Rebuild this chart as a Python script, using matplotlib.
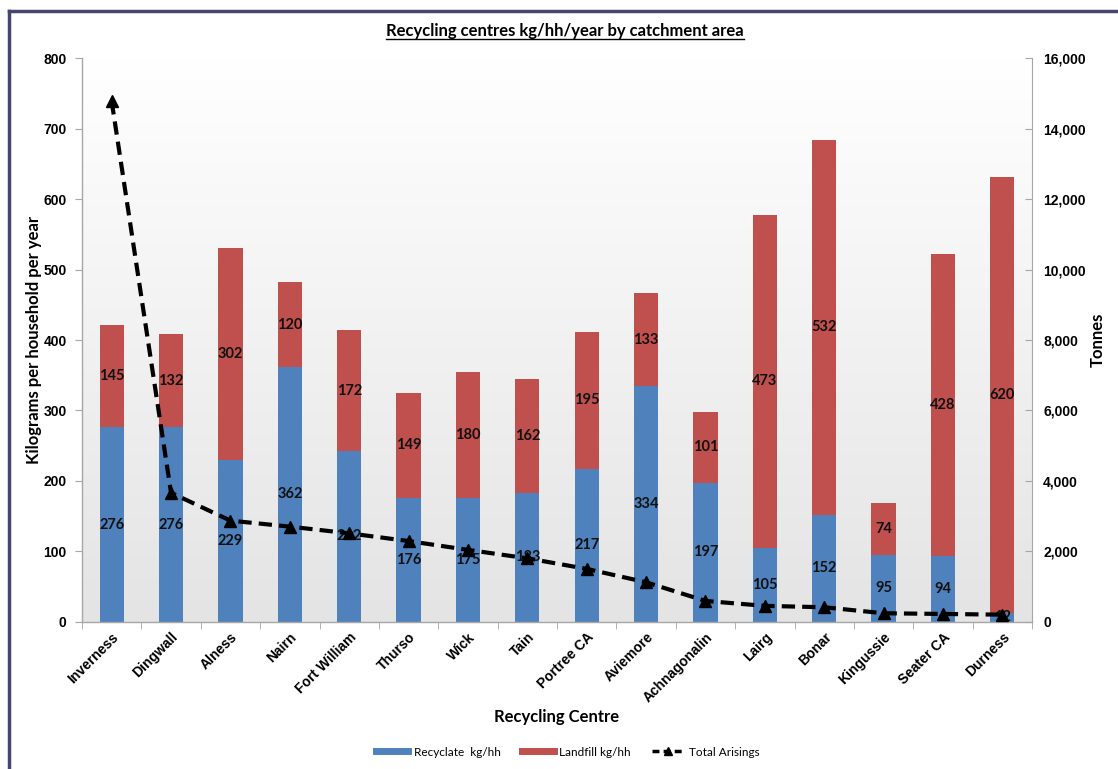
import numpy as np
import matplotlib
matplotlib.use("Agg")
import matplotlib.pyplot as plt
from matplotlib.lines import Line2D
from matplotlib.colors import LinearSegmentedColormap

centres = ["Inverness", "Dingwall", "Alness", "Nairn", "Fort William", "Thurso",
           "Wick", "Tain", "Portree CA", "Aviemore", "Achnagonalin", "Lairg",
           "Bonar", "Kingussie", "Seater CA", "Durness"]
recyclate = [276, 276, 229, 362, 242, 176, 175, 183, 217, 334, 197, 105, 152, 95, 94, 12]
landfill = [145, 132, 302, 120, 172, 149, 180, 162, 195, 133, 101, 473, 532, 74, 428, 620]
total_arisings = [14780, 3660, 2870, 2700, 2510, 2290, 2040, 1800, 1500, 1120, 590, 450, 410, 240, 220, 200]
left_ticks = [0, 100, 200, 300, 400, 500, 600, 700, 800]
right_ticks = [0, 2000, 4000, 6000, 8000, 10000, 12000, 14000, 16000]

BLUE = "#4F81BD"
RED = "#C0504D"
TICKFONT = "Liberation Sans"
CAL = "Lato"

W, H = 1118, 769
fig = plt.figure(figsize=(W / 100, H / 100), dpi=100)
fig.patch.set_facecolor("white")

x0, x1, yb, yt = 82, 1032, 621.7, 58.3
ax = fig.add_axes([x0 / W, 1 - yb / H, (x1 - x0) / W, (yb - yt) / H])
ax.set_facecolor("white")

# gradient background
cmap = LinearSegmentedColormap.from_list("g", ["#e4e4e4", "#ffffff"])
grad = np.linspace(0, 1, 256)[:, None]
ax.imshow(grad, extent=[-0.5, len(centres) - 0.5, 0, 800], origin="lower",
          aspect="auto", cmap=cmap, zorder=0, interpolation="bicubic")

x = np.arange(len(centres))
bw = 0.41
ax.bar(x, recyclate, bw, color=BLUE, zorder=2, label="Recyclate  kg/hh")
ax.bar(x, landfill, bw, bottom=recyclate, color=RED, zorder=2, label="Landfill kg/hh")

for i in range(len(centres)):
    ax.text(x[i], recyclate[i] / 2, str(recyclate[i]), ha="center", va="center",
            fontsize=10.5, fontweight="bold", family=CAL, color="#111111", zorder=3)
    ax.text(x[i], recyclate[i] + landfill[i] / 2, str(landfill[i]), ha="center", va="center",
            fontsize=10.5, fontweight="bold", family=CAL, color="#111111", zorder=3)

ax.set_xlim(-0.5, len(centres) - 0.5)
ax.set_ylim(0, 800)
ax.set_yticks(left_ticks)
ax.set_yticklabels([str(v) for v in left_ticks], fontsize=10, fontweight="bold", family=TICKFONT)
ax.set_xticks(x)
ax.set_xticklabels(centres, rotation=45, ha="right", rotation_mode="anchor",
                   fontsize=10, fontweight="bold", family=TICKFONT)
ax.set_xticks(np.arange(-0.5, len(centres) + 0.5, 1), minor=True)
ax.tick_params(axis="x", which="major", length=0, pad=6)
ax.tick_params(axis="x", which="minor", length=5, color="#a6a6a6", direction="out")
ax.tick_params(axis="y", length=5, color="#a6a6a6", direction="out", pad=6)
for s in ["top", "right"]:
    ax.spines[s].set_visible(False)
for s in ["left", "bottom"]:
    ax.spines[s].set_color("#a6a6a6")
    ax.spines[s].set_linewidth(1)

ax.set_xlabel("Recycling Centre", fontsize=12, fontweight="bold", family=CAL, labelpad=3)
ax.set_ylabel("Kilograms per household per year", fontsize=12, fontweight="bold", family=CAL, labelpad=1)

ax2 = ax.twinx()
ax2.plot(x, total_arisings, color="black", lw=3, linestyle=(0, (3.2, 1.7)),
         marker="^", markersize=9, zorder=5, label="Total Arisings")
ax2.set_ylim(0, 16000)
ax2.set_yticks(right_ticks)
ax2.set_yticklabels([f"{v:,}" for v in right_ticks], fontsize=10, fontweight="bold", family=TICKFONT)
ax2.tick_params(axis="y", length=5, color="#a6a6a6", direction="in", pad=8)
for s in ["top", "left", "bottom"]:
    ax2.spines[s].set_visible(False)
ax2.spines["right"].set_color("#a6a6a6")
ax2.set_ylabel("Tonnes", fontsize=12, fontweight="bold", family=CAL, labelpad=3)

# title with underline
title = fig.text(565 / W, 1 - 31 / H, "Recycling centres kg/hh/year by catchment area",
                 ha="center", va="center", fontsize=12, fontweight="bold", family=CAL)

# legend
handles = [Line2D([0], [0], color=BLUE, lw=5),
           Line2D([0], [0], color=RED, lw=5),
           Line2D([0], [0], color="black", lw=2.5, linestyle=(0, (2, 1.2)), marker="^", markersize=6)]
labels = ["Recyclate  kg/hh", "Landfill kg/hh", "Total Arisings"]
leg = fig.legend(handles, labels, loc="center", bbox_to_anchor=(568 / W, 1 - 752 / H), ncol=3,
                 frameon=False, prop={"family": CAL, "size": 8.5}, handlelength=2.7,
                 columnspacing=1.8, handletextpad=0.45)

# outer border (left and top)
fig.add_artist(Line2D([9 / W, 9 / W], [0, 1 - 11 / H], color="#46466c", lw=2.5,
                      transform=fig.transFigure, solid_capstyle="projecting"))
fig.add_artist(Line2D([9 / W, 1], [1 - 11 / H, 1 - 11 / H], color="#46466c", lw=2.5,
                      transform=fig.transFigure, solid_capstyle="projecting"))

fig.canvas.draw()
bb = title.get_window_extent()
yline = bb.y0 + 0.5
fig.add_artist(Line2D([bb.x0 / W, bb.x1 / W], [yline / H, yline / H], color="black", lw=1,
                      transform=fig.transFigure))

fig.savefig("out.png", dpi=100)
